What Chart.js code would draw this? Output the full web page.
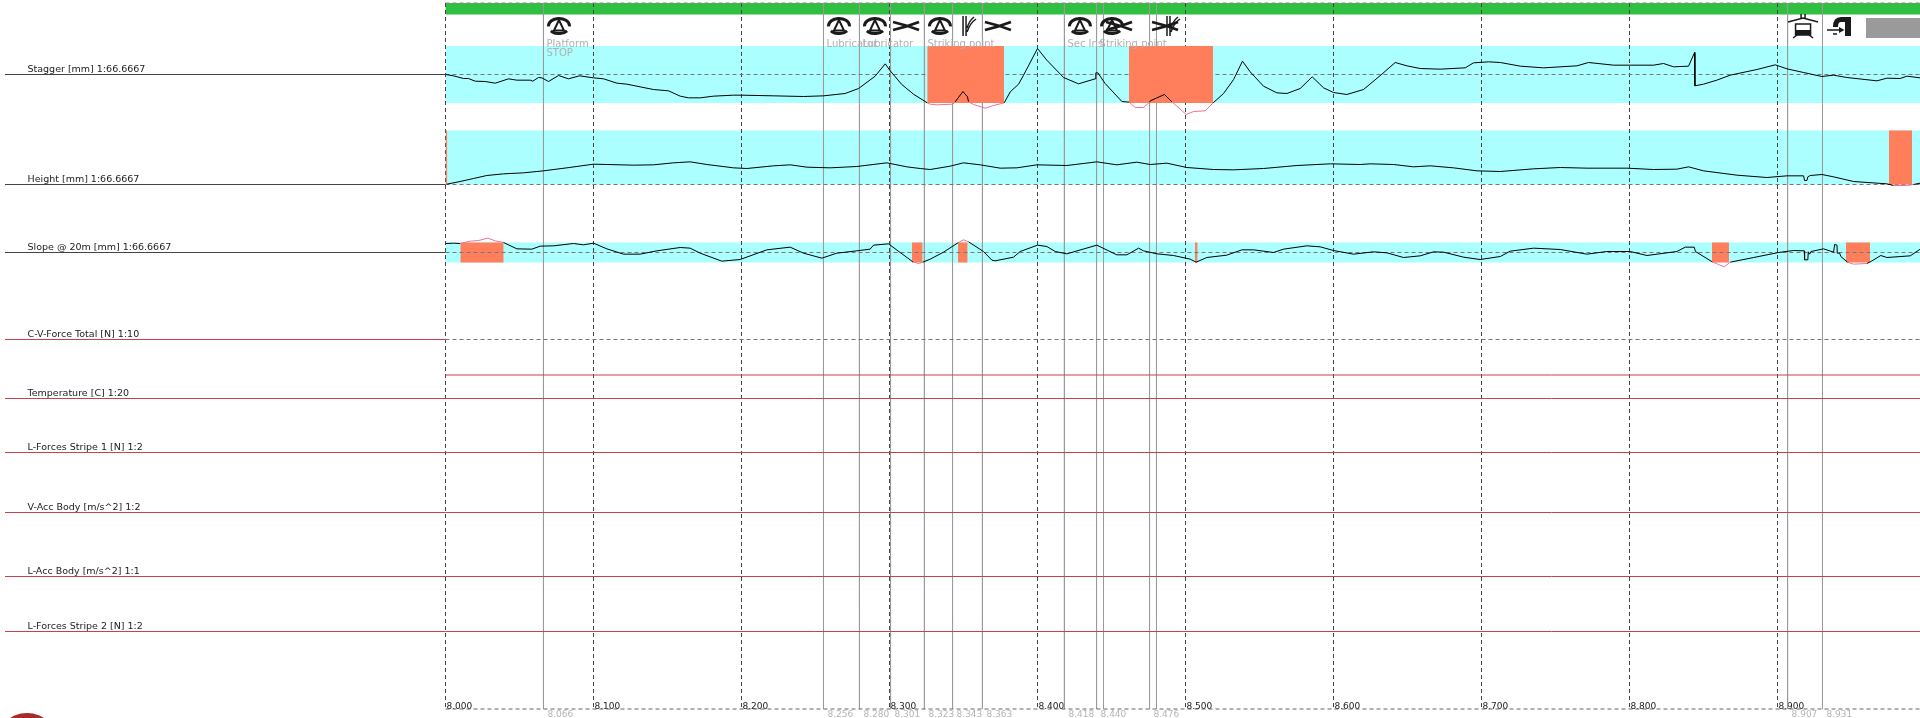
<!DOCTYPE html>
<html>
<head>
<meta charset="utf-8">
<title>Track recording</title>
<style>
  html, body { margin: 0; padding: 0; background: #fff; }
  canvas { display: block; }
</style>
<script src="https://cdn.jsdelivr.net/npm/chart.js@4"></script>
</head>
<body>
<canvas id="trackChart" width="1920" height="718"></canvas>
<script>
const channelNames = ['Stagger [mm] 1:66.6667', 'Height [mm] 1:66.6667', 'Slope @ 20m [mm] 1:66.6667',
    'C-V-Force Total [N] 1:10', 'Temperature [C] 1:20', 'L-Forces Stripe 1 [N] 1:2',
    'V-Acc Body [m/s^2] 1:2', 'L-Acc Body [m/s^2] 1:1', 'L-Forces Stripe 2 [N] 1:2'];

const gridKm = [8.0, 8.1, 8.2, 8.3, 8.4, 8.5, 8.6, 8.7, 8.8, 8.9];
const eventKm = [8.0662, 8.2554, 8.2797, 8.3007, 8.3236, 8.3426, 8.3628, 8.4182, 8.4399, 8.4446, 8.4757, 8.4804, 8.9068, 8.9304];
const eventLabels = ['8.066', '8.256', '8.280', '8.301', '8.323', '8.343', '8.363', '8.418', '8.440', '', '8.476', '', '8.907', '8.931'];

const signKm = [8.0662, 8.2554, 8.2797, 8.3236, 8.4182, 8.4399];
const signNames = [['Platform', 'STOP'], ['Lubricator'], ['Lubricator'], ['Striking point'], ['Sec Ins'], ['Striking point']];
const iconKm = [8.0662, 8.2554, 8.2797, 8.3007, 8.3236, 8.3426, 8.3628, 8.4182, 8.4399, 8.4446, 8.4757, 8.4804, 8.9068, 8.9304];
const iconKinds = ['tri', 'tri', 'tri', 'cross', 'tri', 'fork', 'cross', 'tri', 'tri', 'cross', 'cross', 'fork', 'train', 'arrow'];

const staggerKm = [8.0002, 8.0054, 8.0122, 8.0155, 8.0200, 8.0268, 8.0336, 8.0426, 8.0482, 8.0572, 8.0590, 8.0628, 8.0651, 8.0696, 8.0764, 8.0831, 8.0905, 8.1000, 8.1068, 8.1158, 8.1225, 8.1315, 8.1405, 8.1507, 8.1586, 8.1642, 8.1721, 8.1811, 8.1946, 8.2002, 8.2216, 8.2419, 8.2554, 8.2700, 8.2791, 8.2903, 8.2971, 8.3005, 8.3083, 8.3162, 8.3255,
    8.3275, 8.3320, 8.3428, 8.3444, 8.3496, 8.3527, 8.3534, 8.3568, 8.3647, 8.3703, 8.3775, 8.3816, 8.3872, 8.3906, 8.4000, 8.4063, 8.4176, 8.4277, 8.4390, 8.4394, 8.4408, 8.4457, 8.4570, 8.4620, 8.4660, 8.4716, 8.4757, 8.4762, 8.4858, 8.4908, 8.5005, 8.5054, 8.5133, 8.5187, 8.5257, 8.5325, 8.5385, 8.5437, 8.5527, 8.5617, 8.5685, 8.5775, 8.5856, 8.5933, 8.6000, 8.6090, 8.6203, 8.6327, 8.6417, 8.6496, 8.6586,
    8.6721, 8.6890, 8.6946, 8.7048, 8.7127, 8.7262, 8.7419, 8.7645, 8.7723, 8.7892, 8.8005, 8.8163, 8.8230, 8.8298, 8.8399, 8.8440, 8.8442, 8.8500, 8.8590, 8.8681, 8.8861, 8.8985, 8.9064, 8.9176, 8.9300, 8.9379, 8.9469, 8.9672, 8.9739, 8.9829, 8.9874, 8.9964];
const staggerMm = [0, -20, -60, -60, -100, -105, -130, -65, -85, -85, -100, -45, -50, -105, -15, -65, -20, -50, -65, -130, -145, -185, -225, -245, -325, -350, -350, -325, -310, -310, -320, -330, -320, -285, -210, -25, 160, 55, -150, -295, -425,
    -445, -455, -445, -410, -255, -335, -410, -450, -505, -465, -425, -260, -145, -10, 390, 215, -45, -140, -65, 25, 25, -135, -405, -415, -495, -495, -415, -395, -300, -410, -600, -555, -545, -425, -285, -75, 200, 40, -175, -275, -285, -210, -35, -200, -270, -300, -225, 5, 180, 130, 90,
    80, 100, 175, 190, 180, 125, 100, 130, 180, 140, 140, 140, 165, 115, 125, 330, -170, -145, -85, -10, 75, 145, 85, 30, -30, -10, -45, -95, -55, -60, -25, -50];

const heightKm = [8.0009, 8.0099, 8.0189, 8.0279, 8.0392, 8.0527, 8.0662, 8.0820, 8.1000, 8.1270, 8.1405, 8.1541, 8.1653, 8.1766, 8.1946, 8.2036, 8.2216, 8.2329, 8.2442, 8.2599, 8.2779, 8.2982, 8.3117, 8.3207,
    8.3275, 8.3410, 8.3500, 8.3613, 8.3748, 8.3861, 8.3996, 8.4198, 8.4401, 8.4536, 8.4671, 8.4762, 8.4874, 8.5009, 8.5189, 8.5325, 8.5527, 8.5753, 8.5978, 8.6180, 8.6248, 8.6406, 8.6541,
    8.6654, 8.6811, 8.6969, 8.7127, 8.7352, 8.7532, 8.7712, 8.7982, 8.8163, 8.8320, 8.8399, 8.8500, 8.8726, 8.8928, 8.9064, 8.9176, 8.9183, 8.9199, 8.9205, 8.9221, 8.9300, 8.9379, 8.9514, 8.9739, 8.9784, 8.9874, 8.9919, 8.9964];
const heightMm = [5, 45, 90, 135, 160, 175, 205, 250, 305, 290, 295, 325, 340, 300, 250, 240, 280, 295, 260, 250, 270, 325, 265, 240,
    225, 275, 325, 295, 245, 250, 295, 285, 340, 295, 335, 300, 320, 255, 225, 220, 240, 285, 310, 300, 310, 300, 265,
    280, 250, 205, 195, 235, 255, 245, 245, 225, 230, 265, 205, 140, 105, 130, 130, 60, 60, 115, 135, 150, 115, 45, 10, -15, -15, 0, 20];

const slopeKm = [8.0002, 8.0054, 8.0099, 8.0167, 8.0223, 8.0286, 8.0336, 8.0392, 8.0482, 8.0583, 8.0640, 8.0730, 8.0865, 8.0932, 8.1000, 8.1090, 8.1203, 8.1315, 8.1428, 8.1586, 8.1653, 8.1721, 8.1867, 8.1991, 8.2171, 8.2329, 8.2419, 8.2543, 8.2644, 8.2779, 8.2869, 8.2892, 8.2993, 8.3072, 8.3158, 8.3196, 8.3225,
    8.3275, 8.3365, 8.3466, 8.3500, 8.3534, 8.3635, 8.3692, 8.3714, 8.3838, 8.3883, 8.4000, 8.4063, 8.4120, 8.4198, 8.4401, 8.4536, 8.4604, 8.4683, 8.4716, 8.4807, 8.4919, 8.5032, 8.5072, 8.5144, 8.5279, 8.5381, 8.5460, 8.5595, 8.5662, 8.5820, 8.5910, 8.6000, 8.6135, 8.6270, 8.6361, 8.6473,
    8.6586, 8.6676, 8.6744, 8.6879, 8.6991, 8.7127, 8.7194, 8.7352, 8.7532, 8.7712, 8.7847, 8.8005, 8.8118, 8.8320, 8.8377, 8.8437, 8.8446, 8.8559, 8.8640, 8.8681, 8.8839, 8.9007, 8.9108, 8.9181, 8.9183, 8.9205, 8.9208, 8.9217, 8.9226, 8.9311, 8.9379, 8.9386, 8.9402, 8.9404, 8.9420, 8.9428, 8.9473, 8.9514, 8.9604, 8.9631, 8.9698, 8.9739, 8.9897, 8.9964];
const slopeMm = [135, 140, 135, 170, 180, 215, 175, 150, 55, 50, 95, 100, 135, 115, 140, 55, -25, -25, 25, 75, 65, -10, -130, -105, 40, 80, -10, -85, -10, 25, 50, 110, 130, 0, -140, -165, -145,
    -100, 5, 150, 190, 160, 15, -115, -125, -70, 15, 110, 90, 15, -20, 110, -35, -35, 65, 25, -20, -45, -100, -145, -75, -40, 40, 40, 0, 50, 100, 85, 30, -25, 10, -5, -75,
    -50, 10, 5, -70, -105, -60, 20, 65, 45, -25, 15, 15, -45, 15, 80, 80, 15, -140, -215, -145, -75, 0, 30, 25, -110, -110, 10, -25, 15, 55, 5, 120, 110, -10, -10, -60, -145, -175, -165, -135, -45, -75, -50, 50];

const temperatureC = 23.5;

const staggerAlertKm = [[8.3255, 8.3774], [8.4618, 8.5186]];
const heightAlertKm = [[8.0000, 8.0012], [8.9753, 8.9909]];
const slopeAlertKm = [[8.0100, 8.0393], [8.3152, 8.3224], [8.3463, 8.3528], [8.5064, 8.5082], [8.8557, 8.8672], [8.9463, 8.9625]];

const staggerBand = [-427, 427];
const heightBand = [0, 810];
const slopeBand = [-150, 150];

// layout of the recorder sheet
const W = 1920, H = 718;
const pxPerKm = 1480;
const xMin = 8 - 445.5 / pxPerKm;
const xMax = xMin + W / pxPerKm;
const baselinePx = [74.5, 184.5, 252.5, 339.5, 398.5, 452.5, 512.5, 576.5, 631.5];
const unitsPerPx = [15, 15, 15, 15, 1, 15, 15, 15, 15];
const leftEdgeKm = xMin + 5 / pxPerKm;

const BLACK = '#000000', RULE = '#444444', RED = '#c0444a', PINK = '#e8749c';
const CYAN = '#abffff', ORANGE = '#ff7f5c', GREEN = '#30bf40', GREY = '#9a9a9a';
const FONT = '"DejaVu Sans", sans-serif';

const pairs = (xs, ys) => xs.map((x, i) => ({ x: x, y: ys[i] }));
const axisId = i => 'y' + i;

function flat(id, x0, x1, y, color, order, dash) {
    return {
        xAxisID: 'x', yAxisID: id, data: [{ x: x0, y: y }, { x: x1, y: y }],
        borderColor: color, borderWidth: 1, borderDash: dash || [], pointRadius: 0, order: order, fill: false
    };
}

function block(id, x0, x1, lo, hi, color, order) {
    return {
        xAxisID: 'x', yAxisID: id, data: [{ x: x0, y: hi }, { x: x1, y: hi }],
        borderWidth: 0, pointRadius: 0, fill: { value: lo }, backgroundColor: color, order: order
    };
}

function vertical(km, color, order, dash) {
    return {
        xAxisID: 'x', yAxisID: 'frame', data: [{ x: km, y: 3 }, { x: km, y: 709 }],
        borderColor: color, borderWidth: 1, borderDash: dash || [], pointRadius: 0, order: order, fill: false
    };
}

function trace(id, km, values, band) {
    return {
        xAxisID: 'x', yAxisID: id, data: pairs(km, values), borderColor: BLACK, borderWidth: 1,
        pointRadius: 0, tension: 0, fill: false, order: 1,
        segment: {
            borderColor: ctx => {
                const mid = (ctx.p0.parsed.y + ctx.p1.parsed.y) / 2;
                return mid < band[0] || mid > band[1] ? PINK : BLACK;
            }
        }
    };
}

const datasets = [];

datasets.push(block('frame', 8, xMax, 14.5, 3, GREEN, 9));
datasets.push(block('frame', xMin + 1866 / pxPerKm, xMax, 38, 18, GREY, 9));
datasets.push(block(axisId(0), 8, xMax, staggerBand[0], staggerBand[1], CYAN, 9));
datasets.push(block(axisId(1), 8, xMax, heightBand[0], heightBand[1], CYAN, 9));
datasets.push(block(axisId(2), 8, xMax, slopeBand[0], slopeBand[1], CYAN, 9));

gridKm.forEach(km => datasets.push(vertical(km, RULE, 7, [4, 3])));
eventKm.forEach(km => datasets.push(vertical(km, GREY, 7)));

datasets.push(flat('frame', 8, xMax, 3, '#888888', 6, [4, 3]));
datasets.push(flat('frame', 8, xMax, 709, '#666666', 6, [4, 3]));

datasets.push(flat(axisId(0), 8, xMax, 0, '#777777', 6, [4, 3]));
datasets.push(flat(axisId(1), 8, xMax, 0, '#777777', 6, [4, 3]));

staggerAlertKm.forEach(r => datasets.push(block(axisId(0), r[0], r[1], staggerBand[0], staggerBand[1], ORANGE, 5)));
heightAlertKm.forEach(r => datasets.push(block(axisId(1), r[0], r[1], heightBand[0], heightBand[1], ORANGE, 5)));
slopeAlertKm.forEach(r => datasets.push(block(axisId(2), r[0], r[1], slopeBand[0], slopeBand[1], ORANGE, 5)));

datasets.push(flat(axisId(2), 8, xMax, 0, '#777777', 4, [4, 3]));
datasets.push(flat(axisId(3), 8, xMax, 0, '#777777', 4, [4, 3]));

datasets.push(trace(axisId(0), staggerKm, staggerMm, staggerBand));
datasets.push(trace(axisId(1), heightKm, heightMm, [-5, heightBand[1]]));
datasets.push(trace(axisId(2), slopeKm, slopeMm, slopeBand));

datasets.push(flat(axisId(4), 8, xMax, temperatureC, RED, 2));
[5, 6, 7, 8, 4].forEach(i => datasets.push(flat(axisId(i), 8, xMax, 0, RED, 2)));

// name rules in the left margin
channelNames.forEach((name, i) => {
    datasets.push(flat(axisId(i), leftEdgeKm, 8, 0, i < 3 ? RULE : RED, 2));
});

function flatAxis(axis) {
    axis.height = 0;
    axis.paddingLeft = 0;
    axis.paddingRight = 0;
    axis.paddingTop = 0;
    axis.paddingBottom = 0;
}

const scales = {
    x: {
        type: 'linear', min: xMin, max: xMax, position: 'bottom',
        afterBuildTicks: axis => { axis.ticks = gridKm.map(v => ({ value: v })); },
        afterFit: flatAxis,
        grid: { display: false, drawTicks: false },
        border: { display: false },
        ticks: {
            mirror: true, autoSkip: false, maxRotation: 0, minRotation: 0, align: 'start', padding: 6, labelOffset: 1,
            color: '#222222', font: { family: FONT, size: 9 },
            callback: v => v.toFixed(3)
        }
    },
    xEvents: {
        type: 'linear', axis: 'x', min: xMin, max: xMax, position: 'bottom',
        afterBuildTicks: axis => { axis.ticks = eventKm.map(v => ({ value: v })); },
        afterFit: flatAxis,
        grid: { display: false, drawTicks: false },
        border: { display: false },
        ticks: {
            mirror: true, autoSkip: false, maxRotation: 0, minRotation: 0, align: 'start', padding: -2.5, labelOffset: 4,
            color: '#b4b4b4', font: { family: FONT, size: 9 },
            callback: (v, i) => eventLabels[i]
        }
    },
    frame: { type: 'linear', display: false, reverse: true, min: 0, max: H }
};
baselinePx.forEach((b, i) => {
    scales[axisId(i)] = {
        type: 'linear', display: false,
        min: -(H - b) * unitsPerPx[i],
        max: b * unitsPerPx[i]
    };
});

function ink(ctx, color, width) {
    ctx.strokeStyle = color;
    ctx.fillStyle = color;
    ctx.lineWidth = width;
    ctx.lineCap = 'butt';
}

const iconPainters = {
    tri(ctx, x, y) {
        ink(ctx, '#1a1a1a', 3);
        ctx.beginPath();
        ctx.ellipse(x, y, 10.5, 7.6, 0, Math.PI * 0.98, Math.PI * 2.02);
        ctx.stroke();
        ctx.beginPath();
        ctx.ellipse(x, y, 10.5, 7.6, 0, Math.PI * 0.22, Math.PI * 0.78);
        ctx.stroke();
        ctx.lineWidth = 2;
        ctx.beginPath();
        ctx.moveTo(x, y - 6);
        ctx.lineTo(x - 5, y + 4.5);
        ctx.lineTo(x + 5, y + 4.5);
        ctx.closePath();
        ctx.stroke();
    },
    cross(ctx, x, y) {
        ink(ctx, '#1a1a1a', 2.8);
        ctx.beginPath();
        ctx.moveTo(x - 13, y - 4);
        ctx.quadraticCurveTo(x, y - 1, x + 13, y + 4);
        ctx.moveTo(x - 13, y + 4);
        ctx.quadraticCurveTo(x, y + 1, x + 13, y - 4);
        ctx.stroke();
    },
    fork(ctx, x, y) {
        ink(ctx, '#1a1a1a', 1.5);
        ctx.beginPath();
        ctx.moveTo(x - 5, y - 10);
        ctx.lineTo(x - 5, y + 10);
        ctx.moveTo(x - 2, y - 10);
        ctx.lineTo(x - 2, y + 10);
        ctx.moveTo(x - 1, y + 2);
        ctx.quadraticCurveTo(x + 1, y - 5, x + 6, y - 9);
        ctx.moveTo(x - 1, y + 6);
        ctx.quadraticCurveTo(x + 2, y - 3, x + 8, y - 7);
        ctx.stroke();
    },
    train(ctx, x, y) {
        ink(ctx, '#1a1a1a', 1.5);
        ctx.strokeRect(x - 7.5, y - 2, 15, 11);
        ctx.fillRect(x - 7.5, y + 4, 15, 5);
        ctx.beginPath();
        ctx.moveTo(x - 15, y - 4);
        ctx.lineTo(x, y - 8);
        ctx.lineTo(x + 15, y - 4);
        ctx.moveTo(x - 2, y - 12);
        ctx.lineTo(x - 2, y - 8);
        ctx.moveTo(x + 2, y - 12);
        ctx.lineTo(x + 2, y - 8);
        ctx.moveTo(x - 10, y + 12);
        ctx.lineTo(x - 6, y + 9);
        ctx.moveTo(x + 10, y + 12);
        ctx.lineTo(x + 6, y + 9);
        ctx.stroke();
    },
    arrow(ctx, x, y) {
        ink(ctx, '#1a1a1a', 1.5);
        ctx.beginPath();
        ctx.moveTo(x - 5, y + 1);
        ctx.quadraticCurveTo(x - 5, y - 9, x + 3, y - 9);
        ctx.lineTo(x + 13, y - 9);
        ctx.lineTo(x + 13, y + 10);
        ctx.lineTo(x + 7, y + 10);
        ctx.lineTo(x + 7, y - 4);
        ctx.lineTo(x + 3, y - 4);
        ctx.quadraticCurveTo(x, y - 4, x, y + 1);
        ctx.closePath();
        ctx.fill();
        ctx.beginPath();
        ctx.moveTo(x - 11, y + 4);
        ctx.lineTo(x + 2, y + 4);
        ctx.moveTo(x - 5, y + 8);
        ctx.lineTo(x - 1, y + 8);
        ctx.stroke();
        ctx.beginPath();
        ctx.moveTo(x + 6.5, y + 4);
        ctx.lineTo(x + 1, y + 1);
        ctx.lineTo(x + 1, y + 7);
        ctx.closePath();
        ctx.fill();
    }
};

const sheetText = {
    id: 'sheetText',
    afterDatasetsDraw(chart) {
        const ctx = chart.ctx, x = chart.scales.x;
        ctx.save();
        iconKm.forEach((km, i) => iconPainters[iconKinds[i]](ctx, x.getPixelForValue(km) + 15.5, 26));

        ctx.textBaseline = 'alphabetic';
        ctx.textAlign = 'left';
        ctx.font = '10px ' + FONT;
        ctx.fillStyle = '#b0b0b4';
        signKm.forEach((km, i) => {
            signNames[i].forEach((line, j) => {
                ctx.fillText(line, x.getPixelForValue(km) + 3, 47 + j * 8.5);
            });
        });

        ctx.font = '9.5px ' + FONT;
        ctx.fillStyle = '#222222';
        channelNames.forEach((name, i) => {
            ctx.fillText(name, 27.5, baselinePx[i] - 3);
        });

        // corner logo
        ctx.fillStyle = '#a92a2a';
        ctx.beginPath();
        ctx.arc(27, 744, 31, 0, Math.PI * 2);
        ctx.fill();
        ctx.restore();
    }
};

new Chart(document.getElementById('trackChart').getContext('2d'), {
    type: 'line',
    data: { datasets: datasets },
    options: {
        responsive: false,
        animation: false,
        layout: { padding: 0 },
        scales: scales,
        elements: { line: { tension: 0 } },
        plugins: { legend: { display: false }, tooltip: { enabled: false } }
    },
    plugins: [sheetText]
});
</script>
</body>
</html>
